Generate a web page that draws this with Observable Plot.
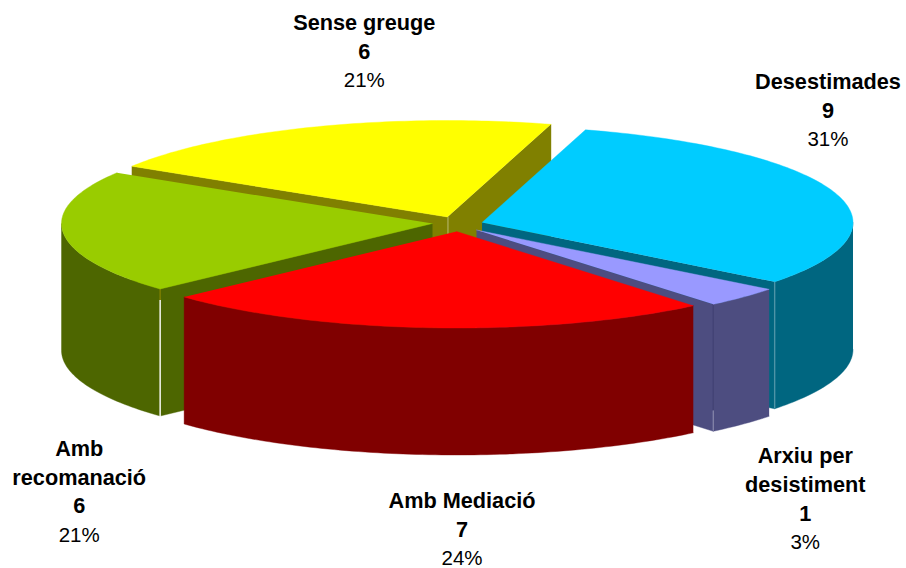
<!DOCTYPE html>
<html>
<head>
<meta charset="utf-8">
<style>
  html, body { margin: 0; padding: 0; background: #fff; }
  svg { display: block; }
</style>
<script src="https://cdn.jsdelivr.net/npm/d3@7"></script>
<script src="https://cdn.jsdelivr.net/npm/@observablehq/plot@0.6"></script>
</head>
<body>
<div id="chart"></div>
<script>
// Resolution categories and the number of cases in each
const categories = ["Desestimades", "Arxiu per\ndesistiment", "Amb Mediació", "Amb\nrecomanació", "Sense greuge"];
const cases = [9, 1, 7, 6, 6];

// Face colours of each slice
const topColors = ["#00ccff", "#9999ff", "#ff0000", "#99cc00", "#ffff00"];
const wallColors = ["#006680", "#4d4d80", "#800000", "#4d6600", "#808000"];

// Slice hubs after pulling the pieces apart, in pixels
const hubs = [[481.5, 222], [476, 229.5], [456, 231], [432, 223], [447, 216.5]];
// Label placement relative to the rim point at each slice's middle angle
const labelOffsets = [[-7, -111], [62.5, 159], [30, 173.5], [16, 216], [50, -104]];

// Pie projection
const rx = 371, ry = 96.5, depth = 127, firstAngle = 16.2;
const lineGap = 28.8;

const total = d3.sum(cases);
const rim = (hub, deg) => {
  const a = deg * Math.PI / 180;
  return [hub[0] + rx * Math.sin(a), hub[1] - ry * Math.cos(a)];
};
const sink = ([x, y]) => [x, y + depth];
const toRows = (points) => points.map(([x, y]) => ({x, y}));

let cursor = firstAngle;
const slices = cases.map((value, i) => {
  const start = cursor;
  cursor += value / total * 360;
  return {i, value, start, end: cursor, hub: hubs[i]};
});

function arc(hub, from, to) {
  const steps = Math.max(2, Math.ceil(Math.abs(to - from)));
  return d3.range(steps + 1).map((k) => rim(hub, from + (to - from) * k / steps));
}

function face(points, fill) {
  return Plot.line(toRows(points), {x: "x", y: "y", fill, stroke: fill, strokeWidth: 0.4});
}

// Seams where a side wall meets the rounded wall; the fractions run down the wall
const seams = [
  {slice: 0, edge: "end", from: 0, to: 1, color: "#4d94a6"},
  {slice: 1, edge: "end", from: 0, to: 0.84, color: "#444475"},
  {slice: 1, edge: "end", from: 0.84, to: 1, color: "#8080a6"},
  {slice: 3, edge: "start", from: 0, to: 0.09, color: "#808000"},
  {slice: 3, edge: "start", from: 0.09, to: 1.02, color: "#ffffff"}
];

const marks = [];
// Painted from the back of the pie to the front
for (const s of [4, 3, 0, 1, 2].map((i) => slices[i])) {
  const wall = wallColors[s.i];
  const sin = (d) => Math.sin(d * Math.PI / 180);
  // Cut faces that look towards the viewer
  if (sin(s.start) < 0) {
    const p = rim(s.hub, s.start);
    marks.push(face([s.hub, p, sink(p), sink(s.hub)], wall));
  }
  if (sin(s.end) > 0) {
    const p = rim(s.hub, s.end);
    marks.push(face([s.hub, p, sink(p), sink(s.hub)], wall));
  }
  // Rounded wall along the front half of the ellipse
  const from = Math.max(s.start, 90), to = Math.min(s.end, 270);
  if (to > from) {
    const upper = arc(s.hub, from, to);
    marks.push(face([...upper, ...upper.map(sink).reverse()], wall));
  }
  for (const seam of seams.filter((d) => d.slice === s.i)) {
    const [x, y] = rim(s.hub, seam.edge === "end" ? s.end : s.start);
    marks.push(Plot.ruleX([x], {
      y1: y + seam.from * depth,
      y2: y + seam.to * depth,
      stroke: seam.color,
      strokeWidth: 1.4
    }));
  }
  // Top of the slice
  marks.push(face([s.hub, ...arc(s.hub, s.start, s.end)], topColors[s.i]));
  // Fold between the two cut faces of the rear slice
  if (s.i === 4) {
    marks.push(Plot.ruleX([s.hub[0] + 1], {y1: s.hub[1], y2: s.hub[1] + depth, stroke: "#a3a340", strokeWidth: 0.8}));
  }
}

// One row per text line under each slice's anchor
const labelRows = slices.flatMap((s) => {
  const mid = (s.start + s.end) / 2;
  const [rimX, rimY] = rim(s.hub, mid);
  const x = rimX + labelOffsets[s.i][0], y0 = rimY + labelOffsets[s.i][1];
  const names = categories[s.i].split("\n");
  return [
    ...names.map((text) => ({text, bold: true})),
    {text: String(s.value), bold: true},
    {text: `${Math.round(s.value / total * 100)}%`, bold: false}
  ].map((row, k) => ({...row, x, y: y0 + k * lineGap}));
});

marks.push(
  Plot.text(labelRows.filter((d) => d.bold), {
    x: "x", y: "y", text: "text", fill: "#000", fontWeight: "bold", fontSize: 21.7,
    fontFamily: "Liberation Sans, Arial, sans-serif", textAnchor: "middle"
  }),
  Plot.text(labelRows.filter((d) => !d.bold), {
    x: "x", y: "y", text: "text", fill: "#000", fontSize: 20.5,
    fontFamily: "Liberation Sans, Arial, sans-serif", textAnchor: "middle"
  })
);

const chart = Plot.plot({
  width: 906,
  height: 568,
  margin: 0,
  x: {domain: [0, 906], range: [0, 906], axis: null},
  y: {domain: [0, 568], range: [0, 568], axis: null},
  marks
});
chart.style.background = "#fff";
document.getElementById("chart").append(chart);
</script>
</body>
</html>
